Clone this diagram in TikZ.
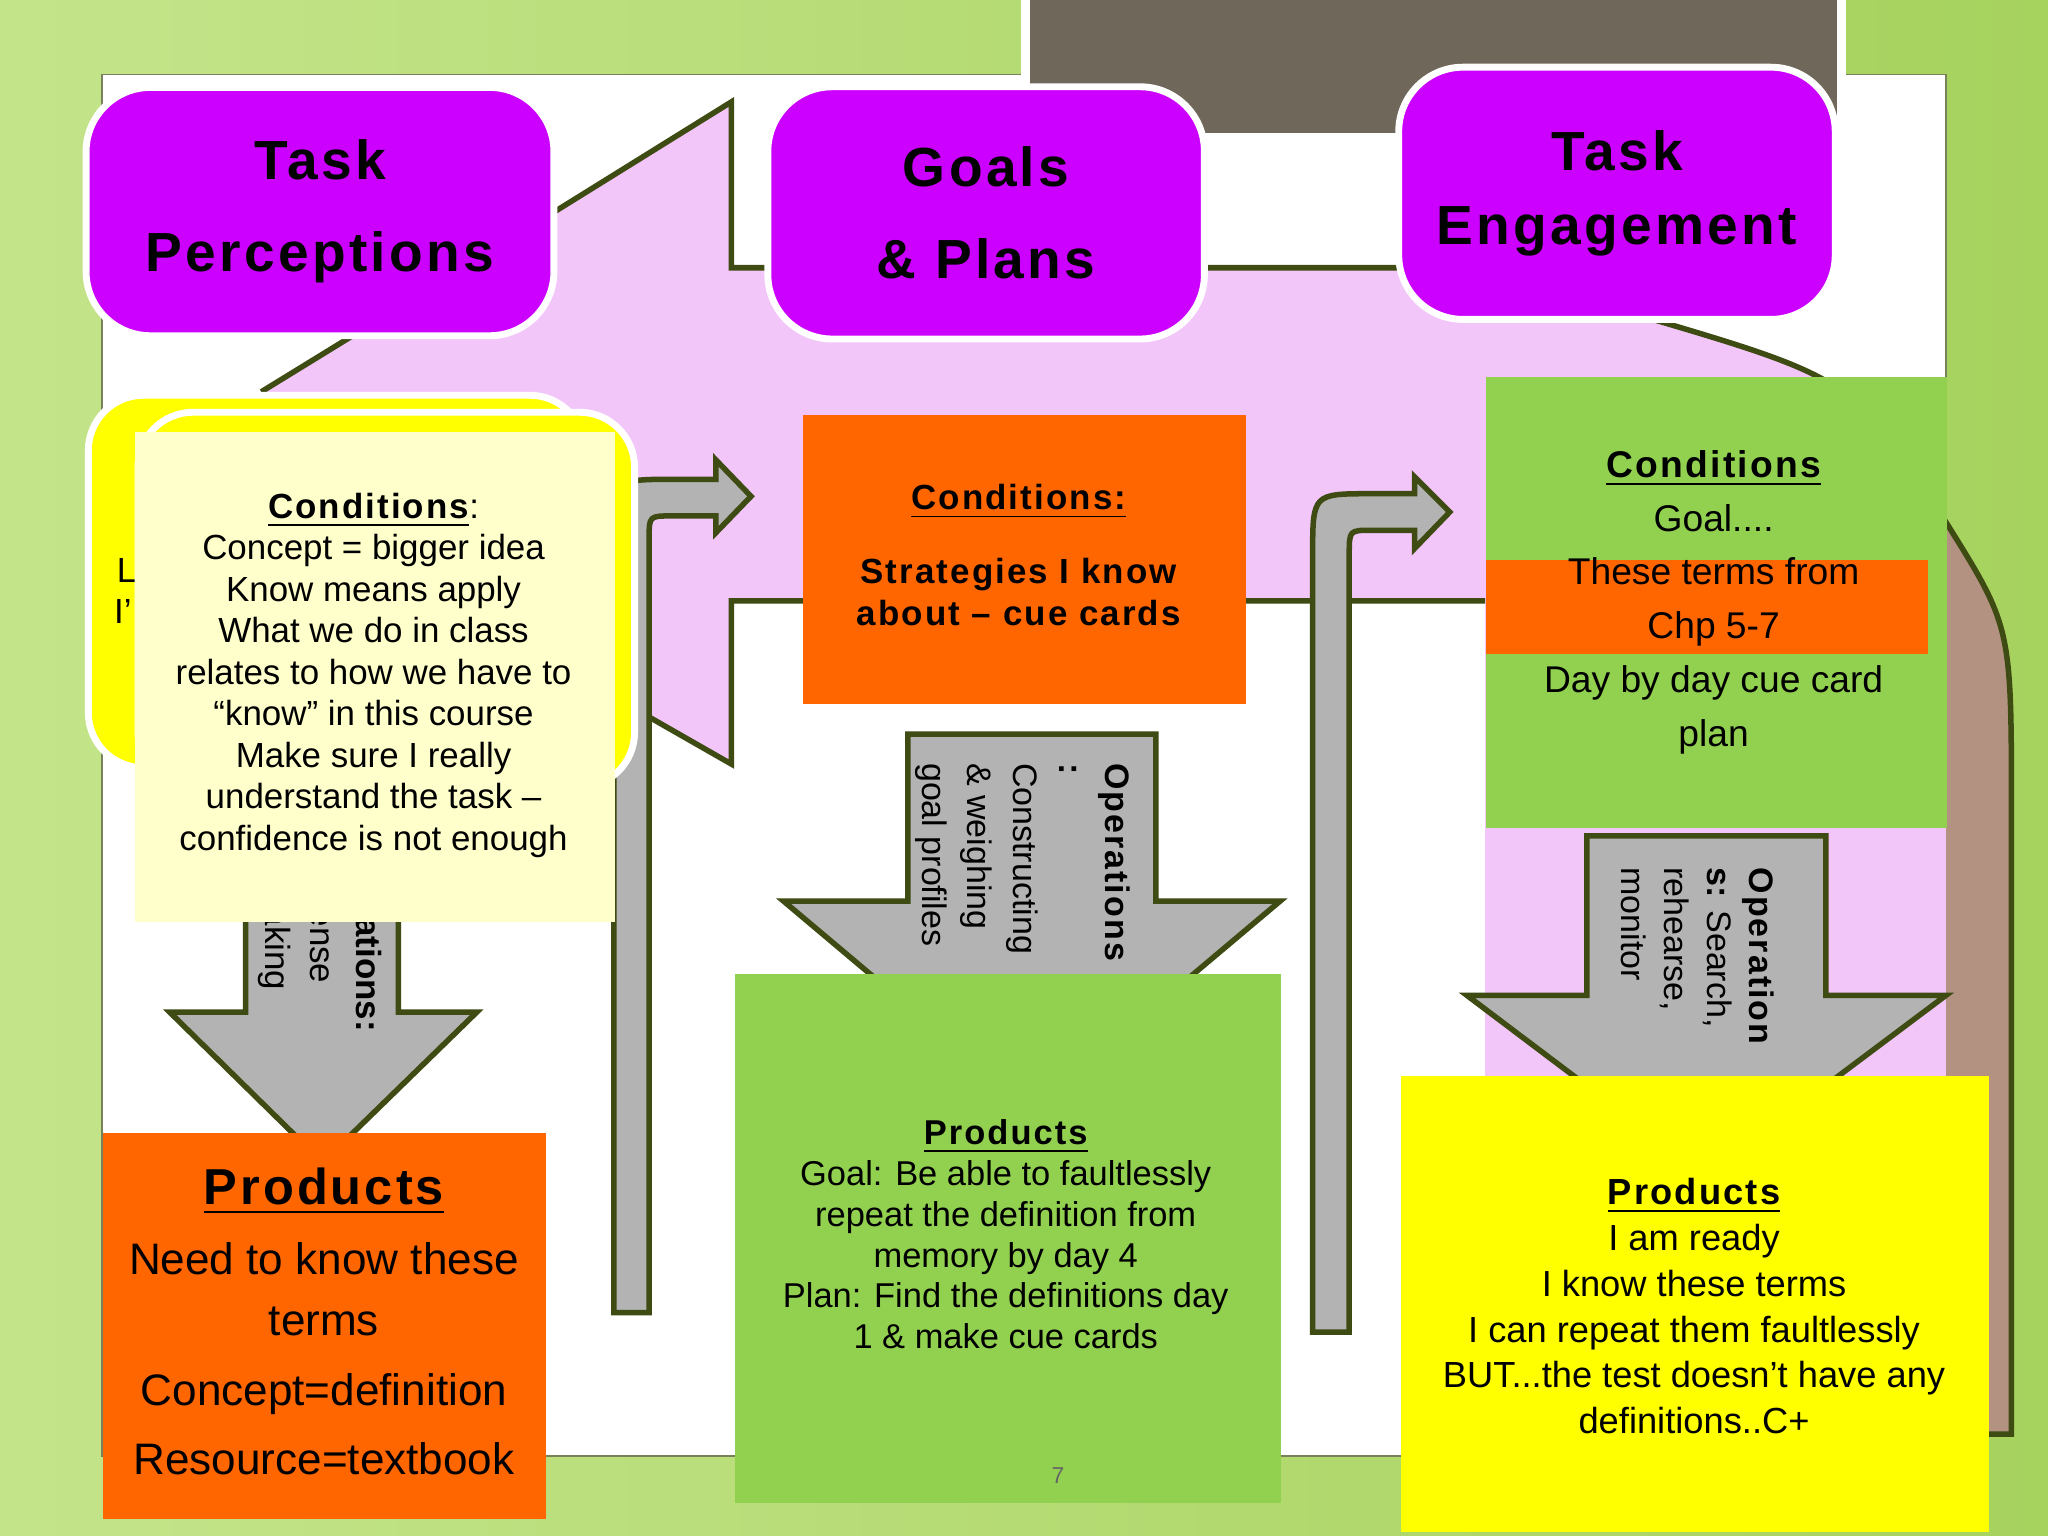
\documentclass[tikz,border=0pt]{standalone}
\usepackage{fontspec}
\setmainfont{Liberation Sans}
\newfontfamily\headfont{Liberation Sans}[LetterSpace=6.0]
\usetikzlibrary{positioning}
\definecolor{bgGreen}{HTML}{A6D25E}
\definecolor{bgLight}{HTML}{C4E48A}
\definecolor{olive}{HTML}{3E4B12}
\definecolor{pinkArea}{HTML}{F3C6FA}
\definecolor{brownArea}{HTML}{B39282}
\definecolor{purpleBox}{HTML}{CC00FF}
\definecolor{orangeBox}{HTML}{FF6600}
\definecolor{greenBox}{HTML}{92D050}
\definecolor{yellowBox}{HTML}{FFFF00}
\definecolor{paleNote}{HTML}{FFFFCC}
\definecolor{arrowGray}{HTML}{B3B3B3}
\definecolor{darkTop}{HTML}{6F6759}
\newcommand{\ul}[1]{\underline{#1}}
\tikzset{
  head/.style={rounded corners=14pt, fill=purpleBox, draw=white, line width=1.5pt,
    align=center, font=\headfont\bfseries\fontsize{12}{16}\selectfont},
  note/.style={align=center, font=\fontsize{6.6}{8.8}\selectfont},
  shape line/.style={draw=olive, line width=1.2pt},
  arrow body/.style={fill=arrowGray, draw=olive, line width=1.2pt, line join=miter},
}
\begin{document}
\begin{tikzpicture}[x=0.01cm,y=-0.01cm]
\useasboundingbox (0,0) rectangle (1568,1176);
% background and slide
\shade[left color=bgLight, right color=bgGreen] (0,0) rectangle (1568,1176);
\fill[white, draw=olive!70, line width=0.4pt] (78,57) rectangle (1490,1115);
\fill[darkTop, draw=white, line width=2pt] (785,-5) rectangle (1410,105);
% big pink cycle shape
\fill[pinkArea] (200,300) -- (428,160) -- (560,78) -- (560,205) -- (1070,205) -- (1250,240)
  .. controls (1420,290) .. (1490,400) -- (1490,860) -- (1137,860) -- (1137,460)
  -- (560,460) -- (560,585) -- (490,545) -- (300,440) -- cycle;
\draw[shape line] (200,300) -- (428,160) -- (560,78) -- (560,205) -- (1070,205);
\draw[shape line] (1250,240) .. controls (1420,290) .. (1490,400);
\draw[shape line] (1137,460) -- (560,460) -- (560,585) -- (490,545);
\fill[brownArea] (1490,400) .. controls (1540,480) .. (1540,620) -- (1540,1098) -- (1490,1098) -- cycle;
\draw[shape line] (1490,400) .. controls (1540,480) .. (1540,620) -- (1540,1098) -- (1490,1098);
% headers
\node[head, minimum width=3.58cm, minimum height=1.90cm] (perc) at (245,162) {Task\\[4pt]Perceptions};
\node[head, minimum width=3.34cm, minimum height=1.93cm] (goals) at (755,163) {Goals\\[4pt]\& Plans};
\node[head, minimum width=3.34cm, minimum height=1.93cm] (engage) at (1238,148) {Task\\Engagement};
% bent arrows
\draw[arrow body] (470,1005) -- (470,412) .. controls (470,367) .. (515,367) -- (548,367) -- (548,352)
  -- (575,380) -- (548,408) -- (548,395) -- (515,395) .. controls (497,395) .. (497,412) -- (497,1005) -- cycle;
\draw[arrow body] (1005,1020) -- (1005,425) .. controls (1005,378) .. (1050,378) -- (1083,378) -- (1083,365)
  -- (1110,392) -- (1083,420) -- (1083,406) -- (1050,406) .. controls (1033,406) .. (1033,425) -- (1033,1020) -- cycle;
% left column
\draw[arrow body] (188,600) -- (305,600) -- (305,775) -- (365,775) -- (247,890) -- (130,775) -- (188,775) -- cycle;
\node[rotate=-90, note, font=\fontsize{7.6}{10}\selectfont] (opleft) at (245,715)
  {\textbf{Operations:}\\Sense\\making};
\node[fill=yellowBox, draw=white, line width=1.5pt, rounded corners=12pt, minimum width=3.80cm, minimum height=2.85cm,
  anchor=north west] (backnote) at (65,300) {};
\node[font=\fontsize{7.6}{9}\selectfont] (lfrag) at (97,437) {L};
\node[font=\fontsize{7.6}{9}\selectfont] (ifrag) at (94,468) {I’};
\node[fill=yellowBox, draw=white, line width=1.5pt, rounded corners=12pt, minimum width=3.80cm, minimum height=2.87cm,
  anchor=north west] (frontnote) at (103,313) {};
\node[fill=paleNote, minimum width=3.67cm, minimum height=3.75cm, anchor=north west] (pale) at (103,330) {};
\node[note, font=\fontsize{7.6}{9.05}\selectfont] (condleft) at (286,517)
  {{\headfont\bfseries\ul{Conditions}}:\\Concept = bigger idea\\Know means apply\\What we do in class\\
   relates to how we have to\\“know” in this course\\Make sure I really\\understand the task –\\confidence is not enough};
\node[fill=orangeBox, minimum width=3.39cm, minimum height=2.95cm, anchor=north west] (prodleft) at (78,867) {};
\node[align=center, font=\fontsize{9.6}{13.2}\selectfont] (prodlefttext) at (248,1012)
  {{\headfont\bfseries\fontsize{11}{13}\selectfont\ul{Products}}\\[2pt]Need to know these\\terms\\[2pt]Concept=definition\\[2pt]Resource=textbook};
% middle column
\node[fill=orangeBox, minimum width=3.39cm, minimum height=2.21cm, anchor=north west] (condmid) at (614,317) {};
\node[align=center, font=\headfont\bfseries\fontsize{7.6}{9.1}\selectfont] (condmidtext) at (780,425)
  {\ul{Conditions:}\\[7pt]Strategies I know\\about – cue cards};
\draw[arrow body] (695,562) -- (885,562) -- (885,690) -- (980,690) -- (790,850) -- (600,690) -- (695,690) -- cycle;
\node[rotate=-90, align=left, font=\fontsize{7.4}{10}\selectfont] (opmid) at (783,660)
  {{\headfont\bfseries Operations}\\\textbf{:}\\Constructing\\\& weighing\\goal profiles};
\node[fill=greenBox, minimum width=4.18cm, minimum height=4.05cm, anchor=north west] (prodmid) at (562,745) {};
\node[align=center, font=\fontsize{7.5}{8.9}\selectfont] (prodmidtext) at (770,945)
  {{\headfont\bfseries\ul{Products}}\\Goal: Be able to faultlessly\\repeat the definition from\\memory by day 4\\
   Plan: Find the definitions day\\1 \& make cue cards};
\node[text=gray!80!black, font=\fontsize{5}{6}\selectfont] (pagenum) at (810,1130) {7};
% right column
\draw[arrow body] (1215,640) -- (1398,640) -- (1398,762) -- (1490,762) -- (1306,900) -- (1123,762) -- (1215,762) -- cycle;
\node[fill=greenBox, minimum width=3.53cm, minimum height=3.45cm, anchor=north west] (condright) at (1137,288) {};
\node[fill=orangeBox, minimum width=3.38cm, minimum height=0.72cm, anchor=north west] (band) at (1137,428) {};
\node[align=center, font=\fontsize{8.1}{11.7}\selectfont] (condrighttext) at (1312,461)
  {{\headfont\bfseries\ul{Conditions}}\\Goal....\\These terms from\\Chp 5-7\\Day by day cue card\\plan};
\node[rotate=-90, align=left, font=\fontsize{7.4}{9.3}\selectfont] (opright) at (1300,732)
  {{\headfont\bfseries Operation}\\\textbf{s:} Search,\\rehearse,\\monitor};
\node[fill=yellowBox, minimum width=4.50cm, minimum height=3.49cm, anchor=north west] (prodright) at (1072,823) {};
\node[align=center, font=\fontsize{7.9}{10}\selectfont] (prodrighttext) at (1297,1000)
  {{\headfont\bfseries\ul{Products}}\\I am ready\\I know these terms\\I can repeat them faultlessly\\
   BUT...the test doesn’t have any\\definitions..C+};
\end{tikzpicture}
\end{document}
